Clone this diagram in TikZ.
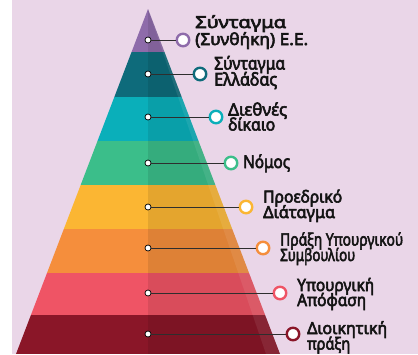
\documentclass[tikz,border=0pt]{standalone}
\usepackage{fontspec}
\setmainfont{Noto Sans}
\newfontfamily\lvfont{Noto Sans}[FakeBold=3.5]
\usepackage{graphicx}
\usepackage{xcolor}
\usetikzlibrary{shadows}

\definecolor{bgpink}{HTML}{EAD6E8}
\definecolor{lvA}{HTML}{8E6BAA}
\definecolor{lvB}{HTML}{0E6B7B}
\definecolor{lvC}{HTML}{0AAFBA}
\definecolor{lvD}{HTML}{3BBE8A}
\definecolor{lvE}{HTML}{FBB633}
\definecolor{lvF}{HTML}{F58E3C}
\definecolor{lvG}{HTML}{EF5465}
\definecolor{lvH}{HTML}{8A1628}
\definecolor{inkgray}{HTML}{2E2E2E}

% one line of text squeezed or stretched to a given width
\newcommand{\fitline}[2]{\resizebox{#1pt}{\height}{#2}}

\begin{document}
\lineskiplimit=-30pt
\begin{tikzpicture}[x=1pt, y=-1pt,
  dot/.style={circle, draw=black, fill=white, line width=0.7pt, inner sep=0pt, minimum size=6pt},
  ring/.style={circle, draw=#1, fill=white, line width=2.4pt, inner sep=0pt, minimum size=12.5pt,
    drop shadow={opacity=0.25, shadow xshift=0.8pt, shadow yshift=-1pt}},
  link/.style={draw=inkgray, line width=0.9pt},
  lvtext/.style 2 args={anchor=base west, align=left, inner sep=0pt, text=black!92,
    font=\lvfont\fontsize{#1}{#2}\selectfont}]
\useasboundingbox (0,0) rectangle (418,354);
\fill[white] (0,0) rectangle (418,354);
\fill[bgpink] (12,0) rectangle (418,354);

% the pyramid
\begin{scope}
\clip (148,9) -- (280,354) -- (16,354) -- cycle;
\fill[lvA] (0,0) rectangle (418,52);
\fill[lvB] (0,52) rectangle (418,97);
\fill[lvC] (0,97) rectangle (418,141);
\fill[lvD] (0,141) rectangle (418,185);
\fill[lvE] (0,185) rectangle (418,229);
\fill[lvF] (0,229) rectangle (418,273);
\fill[lvG] (0,273) rectangle (418,315);
\fill[lvH] (0,315) rectangle (418,354);
% darker right half
\fill[black, opacity=0.09] (148,0) rectangle (418,354);
% light strip along the right edge
\fill[white, opacity=0.08] (148,9) -- (280,354) -- (266,354) -- cycle;
\end{scope}

% dots on the axis
\node[dot] (d1) at (148,40) {};
\node[dot] (d2) at (148,74) {};
\node[dot] (d3) at (148,117) {};
\node[dot] (d4) at (148,163) {};
\node[dot] (d5) at (148,207) {};
\node[dot] (d6) at (148,248) {};
\node[dot] (d7) at (148,293) {};
\node[dot] (d8) at (148,334) {};

% rings
\node[ring=lvA] (c1) at (183,40) {};
\node[ring=lvB] (c2) at (200,74) {};
\node[ring=lvC] (c3) at (216,117) {};
\node[ring=lvD] (c4) at (231,163) {};
\node[ring=lvE] (c5) at (246,207) {};
\node[ring=lvF] (c6) at (263,248) {};
\node[ring=lvG] (c7) at (280,293) {};
\node[ring=lvH] (c8) at (293,334) {};

\draw[link] (d1) -- (c1);
\draw[link] (d2) -- (c2);
\draw[link] (d3) -- (c3);
\draw[link] (d4) -- (c4);
\draw[link] (d5) -- (c5);
\draw[link] (d6) -- (c6);
\draw[link] (d7) -- (c7);
\draw[link] (d8) -- (c8);

% labels (placed at the baseline of their last line)
\node[lvtext={16.5}{17}] (t1) at (195,45) {\fitline{91}{Σύνταγμα}\\\fitline{113}{(Συνθήκη) Ε.Ε.}};
\node[lvtext={17.5}{16}] (t2) at (214,85.5) {\fitline{71}{Σύνταγμα}\\\fitline{63}{Ελλάδας}};
\node[lvtext={17}{15}] (t3) at (228,130.5) {\fitline{59}{Διεθνές}\\\fitline{47}{δίκαιο}};
\node[lvtext={17.5}{16}] (t4) at (243,168) {\fitline{47}{Νόμος}};
\node[lvtext={16.5}{15.5}] (t5) at (263,218) {\fitline{79}{Προεδρικό}\\\fitline{72}{Διάταγμα}};
\node[lvtext={17}{15.5}] (t6) at (280,261) {\fitline{123}{Πράξη Υπουργικού}\\\fitline{75}{Συμβουλίου}};
\node[lvtext={17}{15}] (t7) at (297,306) {\fitline{77}{Υπουργική}\\\fitline{69}{Απόφαση}};
\node[lvtext={16.5}{15.5}] (t8) at (307,349.5) {\fitline{80}{Διοικητική}\\\fitline{43}{πράξη}};
\end{tikzpicture}
\end{document}
